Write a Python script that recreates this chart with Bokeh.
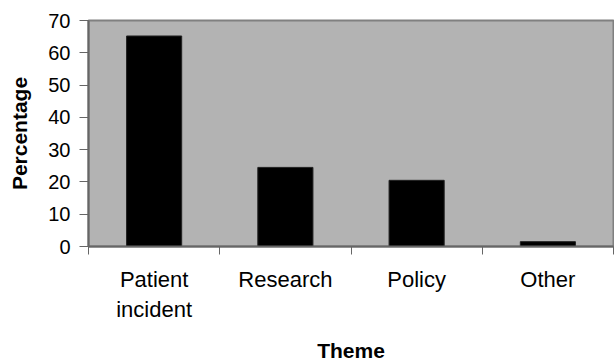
from bokeh.plotting import figure
from bokeh.models import FixedTicker, ColumnDataSource
from bokeh.embed import file_html
from bokeh.resources import INLINE

categories = ["Patient\nincident", "Research", "Policy", "Other"]
values = [65.2, 24.5, 20.5, 1.5]
y_ticks = [0, 10, 20, 30, 40, 50, 60, 70]

xpos = [i + 0.5 for i in range(len(categories))]
source = ColumnDataSource(dict(x=xpos, top=values))

p = figure(width=614, height=364, output_backend="svg", toolbar_location=None,
           x_range=(0, len(categories)), y_range=(0, 70),
           min_border_left=88, min_border_right=1, min_border_top=20, min_border_bottom=115)

p.vbar(x="x", top="top", bottom=0, width=0.42, source=source,
       fill_color="black", line_color="#222222", line_width=1)

p.background_fill_color = "#b3b3b3"
p.border_fill_color = "white"
p.outline_line_color = "#808080"
p.outline_line_width = 2
p.xgrid.visible = False
p.ygrid.visible = False

font = "Liberation Sans"

# y axis
p.yaxis.ticker = FixedTicker(ticks=y_ticks)
p.yaxis.axis_line_color = "#666666"
p.yaxis.axis_line_width = 2
p.yaxis.major_tick_line_color = "#666666"
p.yaxis.major_tick_out = 9
p.yaxis.major_tick_in = 0
p.yaxis.minor_tick_line_color = None
p.yaxis.major_label_standoff = 9
p.yaxis.major_label_text_font = font
p.yaxis.major_label_text_font_size = "20px"
p.yaxis.major_label_text_color = "black"
p.yaxis.axis_label = "Percentage"
p.yaxis.axis_label_text_font = font
p.yaxis.axis_label_text_font_style = "bold"
p.yaxis.axis_label_text_font_size = "21px"
p.yaxis.axis_label_text_color = "black"
p.yaxis.axis_label_standoff = 14

# x axis
p.xaxis.ticker = FixedTicker(ticks=xpos, minor_ticks=list(range(len(categories) + 1)))
p.xaxis.major_label_overrides = {x: c for x, c in zip(xpos, categories)}
p.xaxis.axis_line_color = "#666666"
p.xaxis.axis_line_width = 2
p.xaxis.major_tick_line_color = None
p.xaxis.minor_tick_line_color = "#666666"
p.xaxis.minor_tick_out = 8
p.xaxis.minor_tick_in = 0
p.xaxis.major_tick_out = 8
p.xaxis.major_tick_in = 0
p.xaxis.major_label_standoff = 12
p.xaxis.major_label_text_font = font
p.xaxis.major_label_text_font_size = "22px"
p.xaxis.major_label_text_color = "black"
p.xaxis.axis_label = "Theme"
p.xaxis.axis_label_text_font = font
p.xaxis.axis_label_text_font_style = "bold"
p.xaxis.axis_label_text_font_size = "21px"
p.xaxis.axis_label_text_color = "black"
p.xaxis.axis_label_standoff = 14

open("out.html", "w").write(file_html(p, INLINE))
